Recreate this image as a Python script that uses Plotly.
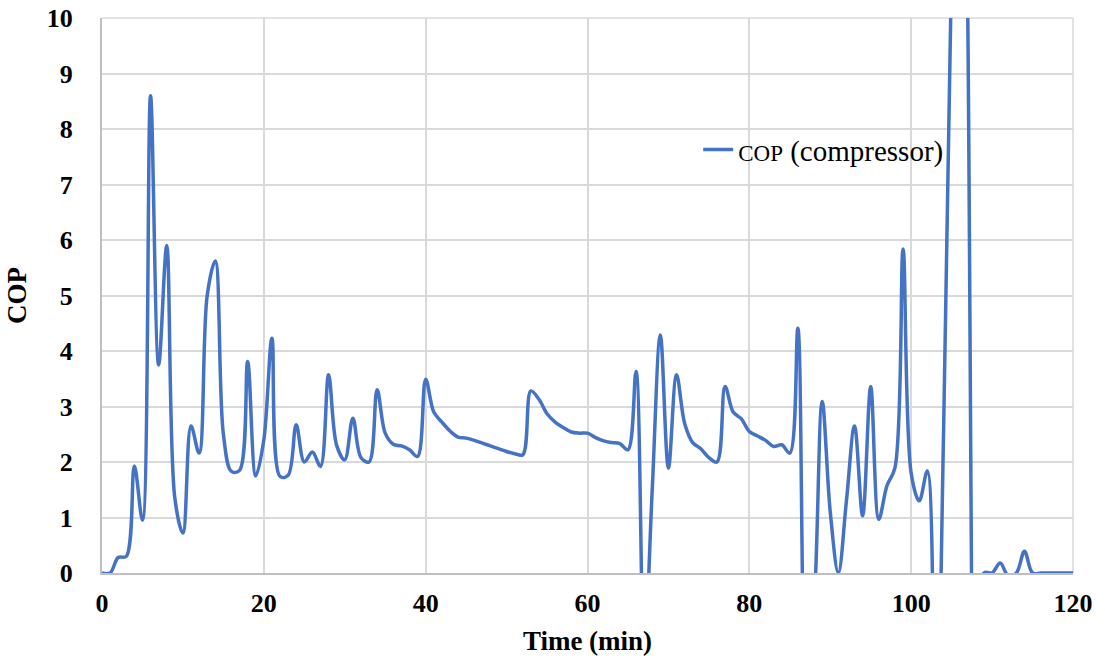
import plotly.graph_objects as go

time_min = list(range(0, 121))
cop = [
    0, 0, 0.28, 0.3, 1.93, 0.95, 8.6, 3.75, 5.9, 1.35,
    0.72, 2.65, 2.16, 5.0, 5.62, 2.5, 1.83, 1.85, 3.81, 1.75,
    2.4, 4.23, 1.74, 1.76, 2.67, 2.0, 2.18, 1.92, 3.57, 2.3,
    2.04, 2.79, 2.08, 2.0, 3.3, 2.52, 2.32, 2.29, 2.22, 2.1,
    3.49, 2.9, 2.72, 2.56, 2.45, 2.43, 2.39, 2.34, 2.29, 2.24,
    2.19, 2.15, 2.13, 3.28, 3.13, 2.87, 2.72, 2.62, 2.54, 2.52,
    2.52, 2.44, 2.38, 2.35, 2.33, 2.22, 3.63, -1.5, 1.5, 4.29,
    1.89, 3.57, 2.7, 2.35, 2.24, 2.08, 2.0, 3.36, 2.9, 2.78,
    2.55, 2.47, 2.39, 2.28, 2.31, 2.16, 4.41, -2.0, -0.6, 3.09,
    1.1, 0.0, 1.3, 2.65, 1.03, 3.36, 0.97, 1.57, 1.9, 5.84,
    1.8, 1.3, 1.84, -4.0, 2.5, 11.0, 25.0, 10.0, -6.0, 0.0,
    0.0, 0.18, -0.05, 0.0, 0.39, 0.0, 0.0, 0.0, 0.0, 0.0,
    0.0,
]

x_ticks = [0, 20, 40, 60, 80, 100, 120]
y_ticks = list(range(0, 11))

series_name = "<span style='font-size:23px'>COP</span> (compressor)"

fig = go.Figure()
fig.add_trace(go.Scatter(
    x=time_min, y=cop, mode="lines", name=series_name,
    line=dict(color="#4472C4", width=3.5, shape="spline", smoothing=1),
    showlegend=True,
))

serif = "Liberation Serif"
fig.update_layout(
    width=1105, height=668,
    margin=dict(l=102, r=32, t=18, b=95),
    paper_bgcolor="white", plot_bgcolor="white",
    showlegend=True,
    legend=dict(
        x=0.614, y=0.763, xanchor="left", yanchor="middle",
        bgcolor="rgba(0,0,0,0)", borderwidth=0,
        font=dict(family=serif, size=29, color="black"),
        itemwidth=30,
    ),
    xaxis=dict(
        range=[0, 120], tickvals=x_ticks, ticktext=[str(v) for v in x_ticks],
        showgrid=True, gridcolor="#d9d9d9", gridwidth=1.5,
        showline=True, linecolor="#bfbfbf", linewidth=2,
        zeroline=False, ticks="", ticklabelstandoff=6, automargin=False,
        tickfont=dict(family=serif, size=26, color="black", weight="bold"),
        title=dict(text="<b>Time (min)</b>", font=dict(family=serif, size=27, color="black"), standoff=14),
    ),
    yaxis=dict(
        range=[0, 10], tickvals=y_ticks, ticktext=[str(v) for v in y_ticks],
        showgrid=True, gridcolor="#d9d9d9", gridwidth=1.5,
        showline=True, linecolor="#bfbfbf", linewidth=2,
        zeroline=False, ticks="", ticklabelstandoff=22, automargin=False,
        tickfont=dict(family=serif, size=26, color="black", weight="bold"),
        title=dict(text="<b>COP</b>", font=dict(family=serif, size=27, color="black"), standoff=12),
    ),
)
fig.add_shape(type="line", xref="paper", yref="paper", x0=1, x1=1, y0=0, y1=1,
              line=dict(color="#d9d9d9", width=1.5), layer="below")
fig.add_shape(type="line", xref="paper", yref="paper", x0=0, x1=1, y0=1, y1=1,
              line=dict(color="#d9d9d9", width=1.5), layer="below")

fig.write_html("out.html")
